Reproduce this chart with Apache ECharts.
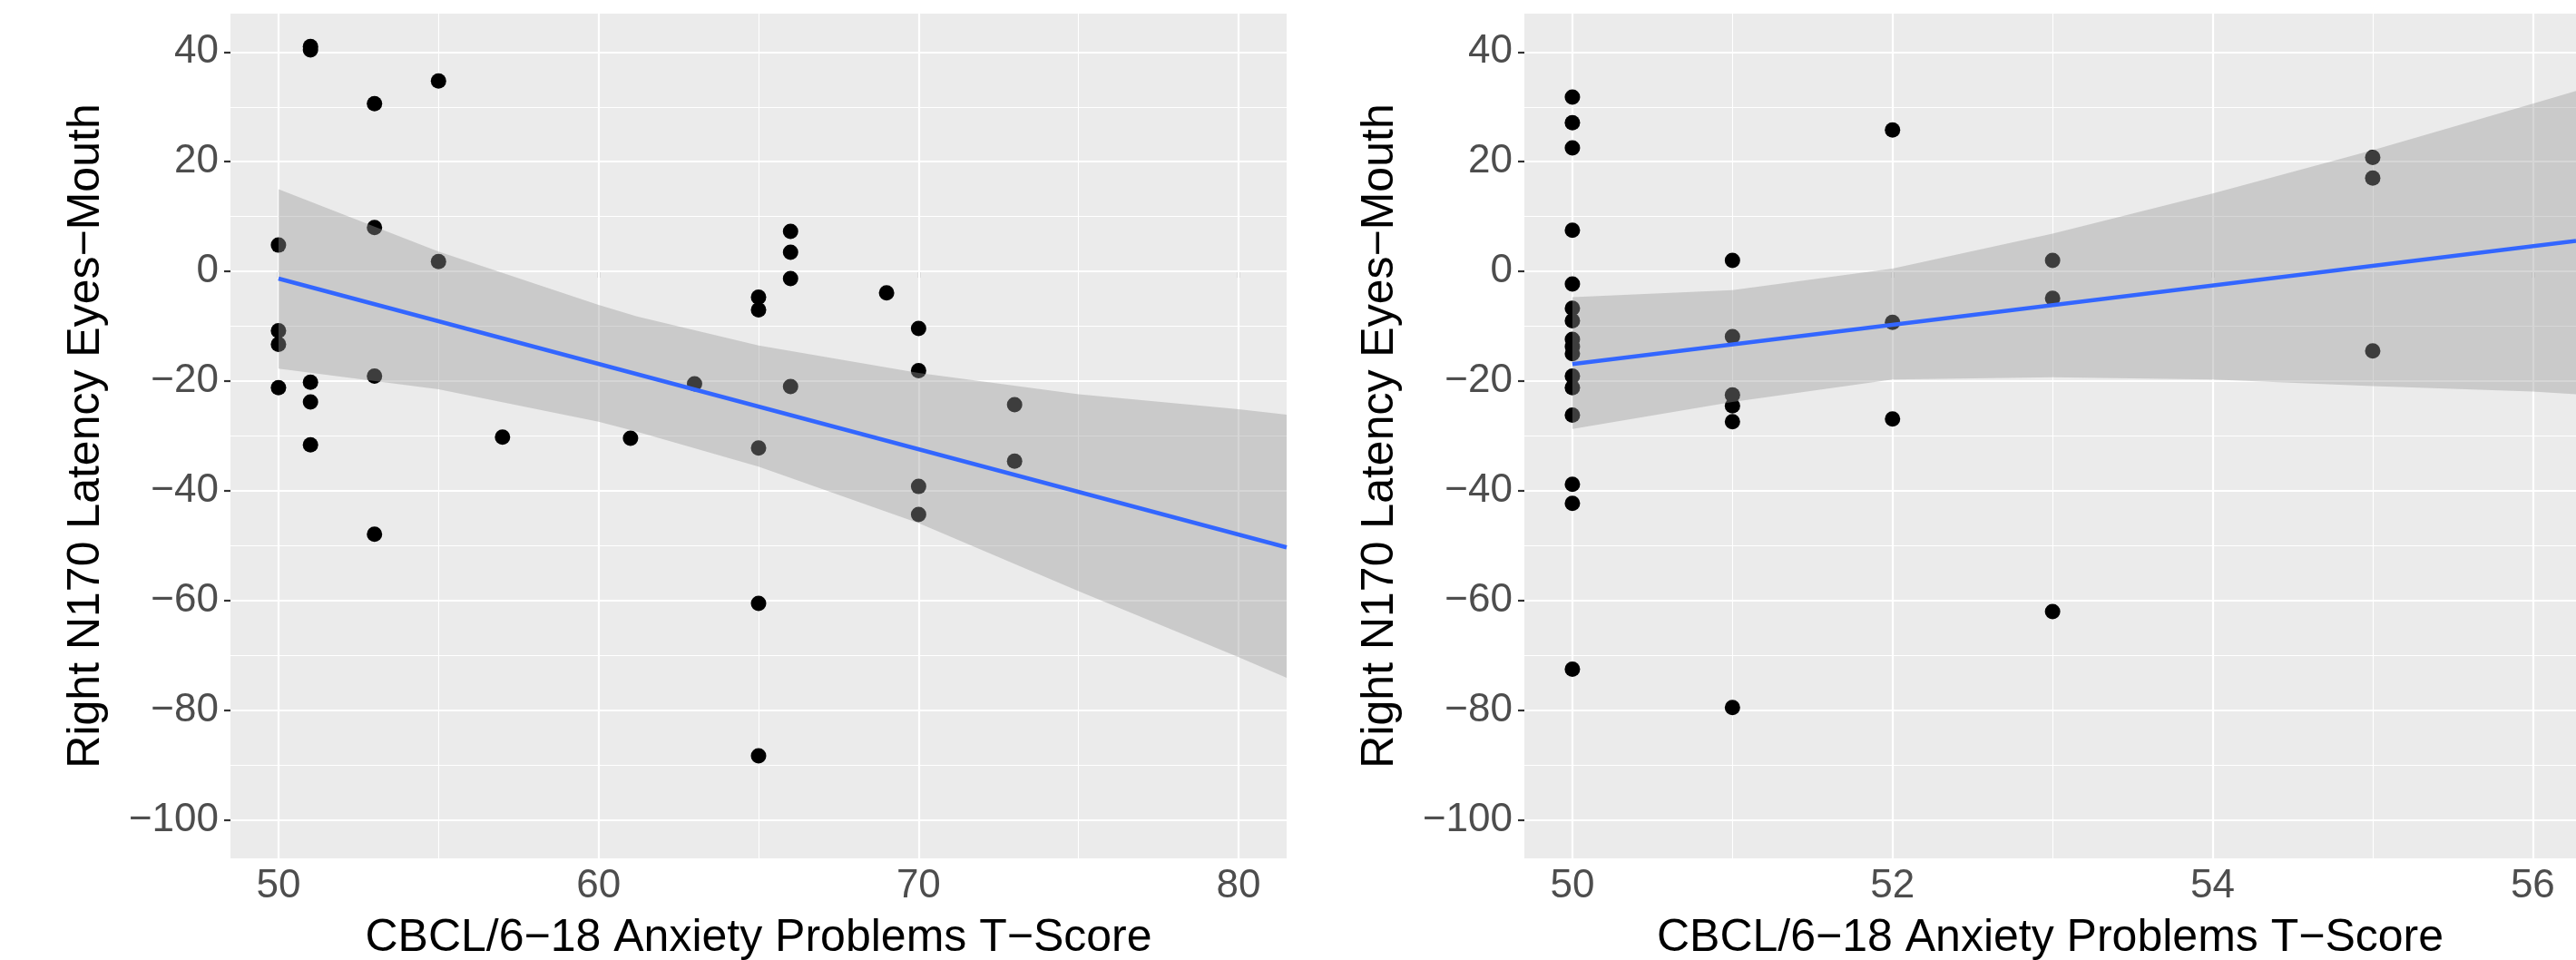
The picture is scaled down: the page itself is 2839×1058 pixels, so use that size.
<!DOCTYPE html>
<html>
<head>
<meta charset="utf-8">
<title>Right N170 Latency Eyes−Mouth vs CBCL Anxiety</title>
<script src="https://cdn.jsdelivr.net/npm/echarts@6/dist/echarts.min.js"></script>
<style>
    html, body { margin: 0; padding: 0; background: #fff; }
    #chart { width: 2839px; height: 1058px; }
</style>
</head>
<body>
<div id="chart"></div>
<script>
    // left panel
    const leftScore = [50, 50, 50, 50, 51, 51, 51, 51, 51, 53, 53, 53, 53, 55, 55, 57, 61, 63,
        65, 65, 65, 65, 65, 66, 66, 66, 66, 69, 70, 70, 70, 70, 73, 73];
    const leftLatency = [4.8, -10.8, -13.3, -21.2, 41.0, 40.4, -20.2, -23.8, -31.6, 30.6, 8.0, -19.1, -47.9,
        34.7, 1.8, -30.2, -30.4, -20.5, -4.7, -7.0, -32.2, -60.5, -88.3, 7.3, 3.5, -1.3, -21.0,
        -3.9, -10.4, -18.1, -39.2, -44.3, -24.3, -34.6];
    const leftFit = [[50, -1.3], [81.5, -50.3]];
    const leftBandX = [50, 55, 60, 61.2, 65, 70, 75, 80, 81.5];
    const leftBandLow = [-17.7, -21.5, -27.4, -29.2, -35.6, -45.9, -58.3, -70.3, -74.1];
    const leftBandHigh = [15.0, 3.6, -6.1, -8.2, -13.5, -18.5, -22.4, -25.1, -26.1];
    const leftTicks = [50, 60, 70, 80];
    const leftMinor = [55, 65, 75];

    // right panel
    const rightScore = [50, 50, 50, 50, 50, 50, 50, 50, 50, 50, 50, 50, 50, 50, 50, 50,
        51, 51, 51, 51, 51, 51, 52, 52, 52, 53, 53, 53, 55, 55, 55];
    const rightLatency = [31.8, 27.1, 22.5, 7.5, -2.3, -6.7, -9.0, -12.4, -13.7, -15.0, -19.1, -21.2, -26.2,
        -38.8, -42.3, -72.5, 2.0, -11.9, -22.5, -24.5, -27.4, -79.5, 25.8, -9.3, -26.9,
        2.0, -4.9, -62.0, 20.8, 17.0, -14.5];
    const rightFit = [[50, -16.9], [56.27, 5.55]];
    const rightBandX = [50, 51, 52, 53, 54, 55, 56, 56.27];
    const rightBandLow = [-28.7, -23.8, -19.7, -19.3, -19.7, -20.9, -21.9, -22.4];
    const rightBandHigh = [-4.7, -3.4, 0.5, 6.9, 14.2, 22.1, 30.6, 32.9];
    const rightTicks = [50, 52, 54, 56];
    const rightMinor = [51, 53, 55];

    const yTicks = [-100, -80, -60, -40, -20, 0, 20, 40];
    const yMinor = [-90, -70, -50, -30, -10, 10, 30];

    const xTitle = 'CBCL/6\u221218 Anxiety Problems T\u2212Score';
    const yTitle = 'Right N170 Latency Eyes\u2212Mouth';
    const font = '"Liberation Sans", Arial, Helvetica, sans-serif';

    const fmt = v => String(v).replace('-', '\u2212');

    function xAxisCfg(idx, min, max, ticks) {
        return {
            type: 'value', gridIndex: idx, min: min, max: max,
            name: xTitle, nameLocation: 'middle', nameGap: 63, nameMoveOverlap: false,
            nameTextStyle: {fontFamily: font, fontSize: 50, color: '#000'},
            axisLine: {show: false},
            splitLine: {show: false},
            axisTick: {show: true, length: 7, lineStyle: {color: '#333', width: 2.2}, customValues: ticks},
            axisLabel: {customValues: ticks, margin: 9, fontSize: 44, color: '#4D4D4D', fontFamily: font, formatter: fmt}
        };
    }

    function yAxisCfg(idx) {
        return {
            type: 'value', gridIndex: idx, min: -107, max: 47,
            name: yTitle, nameLocation: 'middle', nameGap: 134, nameMoveOverlap: false,
            nameTextStyle: {fontFamily: font, fontSize: 50, color: '#000'},
            axisLine: {show: false},
            splitLine: {show: false},
            axisTick: {show: true, length: 7, lineStyle: {color: '#333', width: 2.2}, customValues: yTicks},
            axisLabel: {customValues: yTicks, margin: 13, fontSize: 44, color: '#4D4D4D', fontFamily: font, formatter: fmt}
        };
    }

    // white panel grid lines drawn as mark lines (kept under the points)
    function gridLines(idx, xMajor, xMinor) {
        let d = [];
        xMinor.forEach(v => d.push({xAxis: v, lineStyle: {width: 1.1}}));
        yMinor.forEach(v => d.push({yAxis: v, lineStyle: {width: 1.1}}));
        xMajor.forEach(v => d.push({xAxis: v, lineStyle: {width: 2.2}}));
        yTicks.forEach(v => d.push({yAxis: v, lineStyle: {width: 2.2}}));
        return {
            type: 'line', xAxisIndex: idx, yAxisIndex: idx, data: [], z: 1, silent: true,
            markLine: {
                z: 1, silent: true, animation: false, symbol: ['none', 'none'],
                label: {show: false}, emphasis: {disabled: true},
                lineStyle: {color: '#fff', type: 'solid'},
                data: d
            }
        };
    }

    function ribbon(idx, bx, lo, hi) {
        return {
            type: 'custom', xAxisIndex: idx, yAxisIndex: idx, z: 3, silent: true,
            data: bx.map((x, i) => [x, lo[i], hi[i]]),
            encode: {x: 0, y: [1, 2]},
            renderItem: function (params, api) {
                if (params.dataIndex !== 0) return null;
                let top = bx.map((x, i) => api.coord([x, hi[i]]));
                let bottom = bx.map((x, i) => api.coord([x, lo[i]])).reverse();
                return {
                    type: 'polygon',
                    shape: {points: top.concat(bottom)},
                    style: {fill: 'rgba(153,153,153,0.4)'}
                };
            }
        };
    }

    function points(idx, xs, ys) {
        return {
            type: 'scatter', xAxisIndex: idx, yAxisIndex: idx, z: 2, silent: true,
            symbolSize: 17, itemStyle: {color: '#000', opacity: 1},
            data: xs.map((x, i) => [x, ys[i]])
        };
    }

    function fitLine(idx, d) {
        return {
            type: 'line', xAxisIndex: idx, yAxisIndex: idx, z: 4, silent: true,
            symbol: 'none', data: d,
            lineStyle: {color: '#3366FF', width: 4.5}
        };
    }

    const chart = echarts.init(document.getElementById('chart'), null, {renderer: 'canvas'});
    chart.setOption({
        backgroundColor: '#fff',
        animation: false,
        grid: [
            {left: 254, top: 15, width: 1164, height: 931, show: true, backgroundColor: '#EBEBEB', borderWidth: 0, outerBoundsMode: 'none'},
            {left: 1680, top: 15, width: 1159, height: 931, show: true, backgroundColor: '#EBEBEB', borderWidth: 0, outerBoundsMode: 'none'}
        ],
        xAxis: [xAxisCfg(0, 48.5, 81.5, leftTicks), xAxisCfg(1, 49.7, 56.27, rightTicks)],
        yAxis: [yAxisCfg(0), yAxisCfg(1)],
        series: [
            gridLines(0, leftTicks, leftMinor),
            gridLines(1, rightTicks, rightMinor),
            points(0, leftScore, leftLatency),
            points(1, rightScore, rightLatency),
            ribbon(0, leftBandX, leftBandLow, leftBandHigh),
            ribbon(1, rightBandX, rightBandLow, rightBandHigh),
            fitLine(0, leftFit),
            fitLine(1, rightFit)
        ]
    });
</script>
</body>
</html>
